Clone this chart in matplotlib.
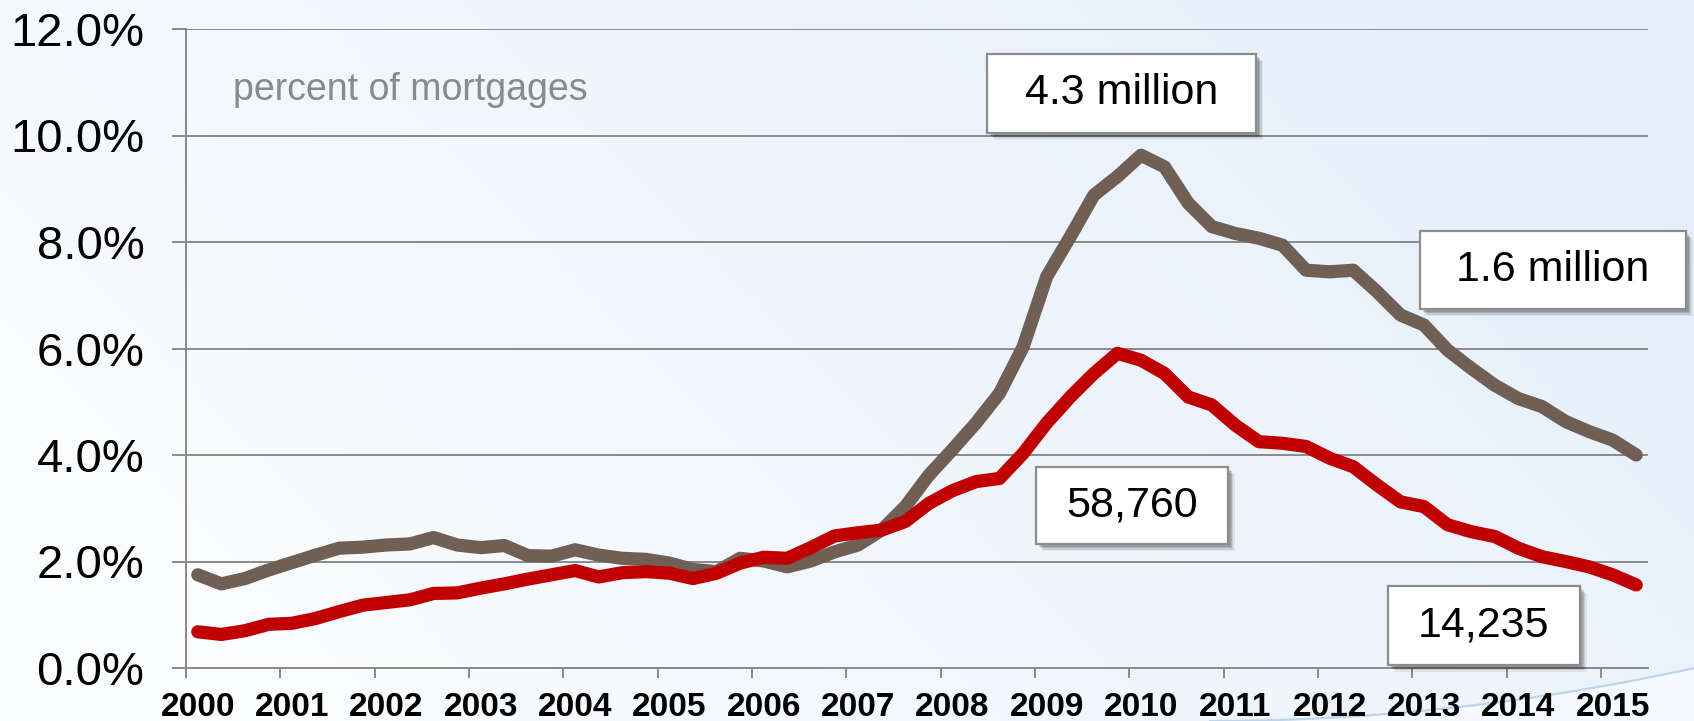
import numpy as np
import matplotlib.pyplot as plt
import matplotlib.patheffects as pe
from matplotlib import transforms
from matplotlib.patches import Rectangle

plt.rcParams['font.family'] = ['Liberation Sans', 'DejaVu Sans']

# quarterly rates, 2000 Q1 .. 2015 Q2 (percent of mortgages)
delinquent_pct = [
    1.75, 1.58, 1.68, 1.84, 1.98, 2.12, 2.25, 2.27,
    2.31, 2.33, 2.45, 2.31, 2.26, 2.30, 2.11, 2.10,
    2.22, 2.12, 2.06, 2.04, 1.97, 1.85, 1.81, 2.06,
    2.01, 1.90, 2.01, 2.18, 2.31, 2.59, 3.03, 3.62,
    4.10, 4.60, 5.16, 6.03, 7.35, 8.10, 8.88, 9.23,
    9.63, 9.41, 8.73, 8.29, 8.16, 8.07, 7.94, 7.47,
    7.44, 7.47, 7.07, 6.63, 6.44, 5.97, 5.63, 5.31,
    5.06, 4.91, 4.63, 4.44, 4.28, 4.00,
]
foreclosure_pct = [
    0.68, 0.63, 0.70, 0.82, 0.84, 0.93, 1.06, 1.18,
    1.23, 1.28, 1.40, 1.41, 1.50, 1.58, 1.67, 1.75,
    1.83, 1.71, 1.79, 1.81, 1.78, 1.68, 1.78, 1.97,
    2.08, 2.06, 2.26, 2.48, 2.54, 2.59, 2.75, 3.09,
    3.33, 3.50, 3.56, 4.03, 4.60, 5.09, 5.53, 5.91,
    5.78, 5.53, 5.09, 4.94, 4.56, 4.25, 4.22, 4.16,
    3.94, 3.78, 3.44, 3.12, 3.03, 2.69, 2.56, 2.47,
    2.25, 2.09, 2.00, 1.90, 1.75, 1.56,
]
years = list(range(2000, 2016))
y_ticks = [0, 2, 4, 6, 8, 10, 12]
callouts = ["4.3 million", "1.6 million", "58,760", "14,235"]

BROWN = "#6f5f55"
RED = "#c00000"
GRID = "#8a8a8a"

fig = plt.figure(figsize=(16.94, 7.21), dpi=100)

# soft blue backdrop with a light swoosh in the lower right corner
bg = fig.add_axes([0, 0, 1, 1], zorder=-10)
gx, gy = np.meshgrid(np.linspace(0, 1, 400), np.linspace(0, 1, 200))
t = np.clip(0.85 * gx + 0.35 * (1 - gy) - 0.12, 0, 1)[..., None]
light = np.array([251, 252, 253]) / 255
blue = np.array([229, 239, 251]) / 255
bg.imshow(light * (1 - t) + blue * t, extent=[0, 1694, 721, 0], aspect="auto")
sx = np.linspace(1210, 1694, 100)
sy = 721 - 2.26e-4 * (sx - 1210) ** 2
bg.fill_between(sx, sy, 721, color="white", alpha=0.55, lw=0)
bg.plot(sx, sy, color="#bcd5ec", lw=1.6)
bg.set_xlim(0, 1694)
bg.set_ylim(721, 0)
bg.axis("off")

ax = fig.add_axes([186 / 1694, 53 / 721, 1462 / 1694, 639 / 721])
ax.set_facecolor("none")

x = [2000 + (i + 0.5) / 4 for i in range(len(delinquent_pct))]
ax.plot(x, delinquent_pct, color=BROWN, lw=9.5, solid_capstyle="round", zorder=3)
ax.plot(x, foreclosure_pct, color=RED, lw=9.5, solid_capstyle="round", zorder=4)

ax.set_xlim(2000, 2015.5)
ax.set_ylim(0, 12)
ax.set_yticks(y_ticks)
ax.set_yticklabels([f"{v:.1f}%" for v in y_ticks], fontsize=34)

# tick marks sit on the year boundaries, year labels just right of them
ax.set_xticks(years)
ax.tick_params(axis="x", labelbottom=False, length=7, width=1.4, color=GRID)
below = transforms.blended_transform_factory(ax.transData, ax.transAxes)
below += transforms.ScaledTranslation(0, -0.48, fig.dpi_scale_trans)
for yr in years:
    ax.text(yr + 0.125, 0, str(yr), transform=below, ha="center",
            va="baseline", fontsize=24, fontweight="bold", clip_on=False)

ax.yaxis.grid(True, color=GRID, lw=1.4)
ax.set_axisbelow(True)
for side in ("top", "right"):
    ax.spines[side].set_visible(False)
for side in ("left", "bottom"):
    ax.spines[side].set_color(GRID)
    ax.spines[side].set_linewidth(1.4)
ax.tick_params(axis="y", length=10, width=1.4, color=GRID, pad=20)

ax.text(0.032, 0.905, "percent of mortgages", transform=ax.transAxes,
        fontsize=27, color="#8a8a8a", va="center", ha="left")

# boxed callouts: centre x, centre y, width (years), height (percent)
boxes = [
    (2009.92, 10.79, 2.85, 1.48),
    (2014.49, 7.47, 2.82, 1.46),
    (2010.03, 3.05, 2.03, 1.45),
    (2013.76, 0.80, 2.03, 1.48),
]
shadow = [pe.SimplePatchShadow(offset=(o, -o), shadow_rgbFace="#000000", alpha=a)
          for o, a in ((5, 0.06), (4, 0.10), (3, 0.14), (2, 0.12))] + [pe.Normal()]
for label, (cx, cy, w, h) in zip(callouts, boxes):
    rect = Rectangle((cx - w / 2, cy - h / 2), w, h, facecolor="white",
                     edgecolor="#8c8c8c", lw=1.6, clip_on=False, zorder=6,
                     path_effects=shadow)
    ax.add_patch(rect)
    ax.text(cx, cy, label, fontsize=31, color="black", ha="center",
            va="center", zorder=7, clip_on=False)

fig.savefig("out.png", dpi=100)
